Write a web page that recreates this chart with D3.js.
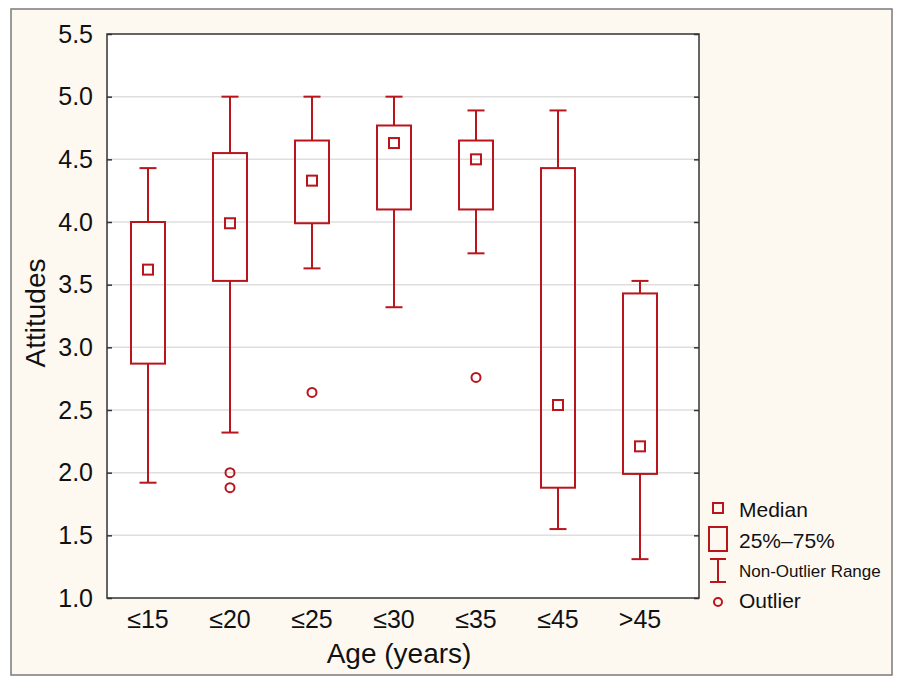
<!DOCTYPE html>
<html>
<head>
<meta charset="utf-8">
<script src="https://cdn.jsdelivr.net/npm/d3@7"></script>
<style>
  body { margin: 0; background: #fff; }
  text { font-family: "Liberation Sans", Arial, sans-serif; fill: #111; }
</style>
</head>
<body>
<div id="chart"></div>
<script>
var categories = ['≤15', '≤20', '≤25', '≤30', '≤35', '≤45', '>45'];
var whiskerLow = [1.92, 2.32, 3.63, 3.32, 3.75, 1.55, 1.31];
var q1 = [2.87, 3.53, 3.99, 4.10, 4.10, 1.88, 1.99];
var median = [3.62, 3.99, 4.33, 4.63, 4.50, 2.54, 2.21];
var q3 = [4.00, 4.55, 4.65, 4.77, 4.65, 4.43, 3.43];
var whiskerHigh = [4.43, 5.00, 5.00, 5.00, 4.89, 4.89, 3.53];
var outlierCats = ['≤20', '≤20', '≤25', '≤35'];
var outlierValues = [2.00, 1.88, 2.64, 2.76];
var yTicks = [1.0, 1.5, 2.0, 2.5, 3.0, 3.5, 4.0, 4.5, 5.0, 5.5];
var legendLabels = ['Median', '25%–75%', 'Non-Outlier Range', 'Outlier'];

var width = 900, height = 682;
var red = '#b8151d';
var plot = { left: 107, top: 34, right: 699, bottom: 598 };

var svg = d3.select('#chart').append('svg')
  .attr('width', width)
  .attr('height', height);

// outer panel
svg.append('rect')
  .attr('x', 11).attr('y', 9)
  .attr('width', 881).attr('height', 666)
  .attr('fill', '#fdf9f1')
  .attr('stroke', '#7a7a7a')
  .attr('stroke-width', 1.5);

svg.append('rect')
  .attr('x', plot.left).attr('y', plot.top)
  .attr('width', plot.right - plot.left).attr('height', plot.bottom - plot.top)
  .attr('fill', '#fff');

var x = d3.scaleBand()
  .domain(categories)
  .range([plot.left, plot.left + 82 * categories.length]);

var y = d3.scaleLinear()
  .domain([1, 5.5])
  .range([plot.bottom, plot.top]);

// grid
svg.append('g')
  .selectAll('line')
  .data(yTicks.filter(function(d) { return d > 1 && d < 5.5; }))
  .enter().append('line')
  .attr('x1', plot.left).attr('x2', plot.right)
  .attr('y1', function(d) { return y(d); })
  .attr('y2', function(d) { return y(d); })
  .attr('stroke', '#dedede')
  .attr('stroke-width', 1.5);

var yAxis = svg.append('g')
  .attr('transform', 'translate(' + plot.left + ',0)')
  .call(d3.axisLeft(y).tickValues(yTicks).tickFormat(d3.format('.1f'))
    .tickSizeInner(-5).tickSizeOuter(0).tickPadding(14));
yAxis.select('.domain').remove();
yAxis.selectAll('line').attr('stroke', '#333').attr('stroke-width', 1.5);
yAxis.selectAll('text').style('font-size', '25px').attr('fill', '#111');

var yAxisR = svg.append('g')
  .attr('transform', 'translate(' + plot.right + ',0)')
  .call(d3.axisRight(y).tickValues(yTicks).tickFormat('')
    .tickSizeInner(-5).tickSizeOuter(0));
yAxisR.select('.domain').remove();
yAxisR.selectAll('line').attr('stroke', '#333').attr('stroke-width', 1.5);

var xAxis = svg.append('g')
  .attr('transform', 'translate(0,' + plot.bottom + ')')
  .call(d3.axisBottom(x).tickSize(0).tickPadding(12));
xAxis.select('.domain').remove();
xAxis.selectAll('text').style('font-size', '25px').attr('fill', '#111');

// plot frame
svg.append('rect')
  .attr('x', plot.left).attr('y', plot.top)
  .attr('width', plot.right - plot.left).attr('height', plot.bottom - plot.top)
  .attr('fill', 'none')
  .attr('stroke', '#333')
  .attr('stroke-width', 1.5);

svg.append('text')
  .attr('x', 399).attr('y', 663)
  .attr('text-anchor', 'middle')
  .style('font-size', '28px')
  .text('Age (years)');

svg.append('text')
  .attr('transform', 'translate(45,313)rotate(-90)')
  .attr('text-anchor', 'middle')
  .style('font-size', '28px')
  .text('Attitudes');

// boxes
var boxW = 34, capW = 17, medS = 10;
var boxes = svg.append('g')
  .attr('fill', 'none')
  .attr('stroke', red)
  .attr('stroke-width', 2);

categories.forEach(function(c, i) {
  var cx = x(c) + x.bandwidth() / 2;
  var g = boxes.append('g');
  g.append('line')
    .attr('x1', cx).attr('x2', cx)
    .attr('y1', y(q3[i])).attr('y2', y(whiskerHigh[i]));
  g.append('line')
    .attr('x1', cx).attr('x2', cx)
    .attr('y1', y(q1[i])).attr('y2', y(whiskerLow[i]));
  g.append('line')
    .attr('x1', cx - capW / 2).attr('x2', cx + capW / 2)
    .attr('y1', y(whiskerHigh[i])).attr('y2', y(whiskerHigh[i]));
  g.append('line')
    .attr('x1', cx - capW / 2).attr('x2', cx + capW / 2)
    .attr('y1', y(whiskerLow[i])).attr('y2', y(whiskerLow[i]));
  g.append('rect')
    .attr('x', cx - boxW / 2).attr('y', y(q3[i]))
    .attr('width', boxW).attr('height', y(q1[i]) - y(q3[i]));
  g.append('rect')
    .attr('x', cx - medS / 2).attr('y', y(median[i]) - medS / 2)
    .attr('width', medS).attr('height', medS);
});

boxes.selectAll('circle')
  .data(outlierValues)
  .enter().append('circle')
  .attr('cx', function(d, i) { return x(outlierCats[i]) + x.bandwidth() / 2; })
  .attr('cy', function(d) { return y(d); })
  .attr('r', 4.5);

// legend
var lg = svg.append('g');
var sym = lg.append('g').attr('fill', 'none').attr('stroke', red).attr('stroke-width', 2);
sym.append('rect').attr('x', 713).attr('y', 503).attr('width', 10).attr('height', 10);
sym.append('rect').attr('x', 709).attr('y', 527).attr('width', 18).attr('height', 24);
sym.append('line').attr('x1', 718).attr('x2', 718).attr('y1', 559).attr('y2', 582);
sym.append('line').attr('x1', 710).attr('x2', 726).attr('y1', 559).attr('y2', 559);
sym.append('line').attr('x1', 710).attr('x2', 726).attr('y1', 582).attr('y2', 582);
sym.append('circle').attr('cx', 718).attr('cy', 602).attr('r', 4);

var legendY = [517, 548, 577, 608];
var legendSize = [21, 21, 17, 21];
lg.selectAll('text')
  .data(legendLabels)
  .enter().append('text')
  .attr('x', 739)
  .attr('y', function(d, i) { return legendY[i]; })
  .style('font-size', function(d, i) { return legendSize[i] + 'px'; })
  .text(function(d) { return d; });
</script>
</body>
</html>
